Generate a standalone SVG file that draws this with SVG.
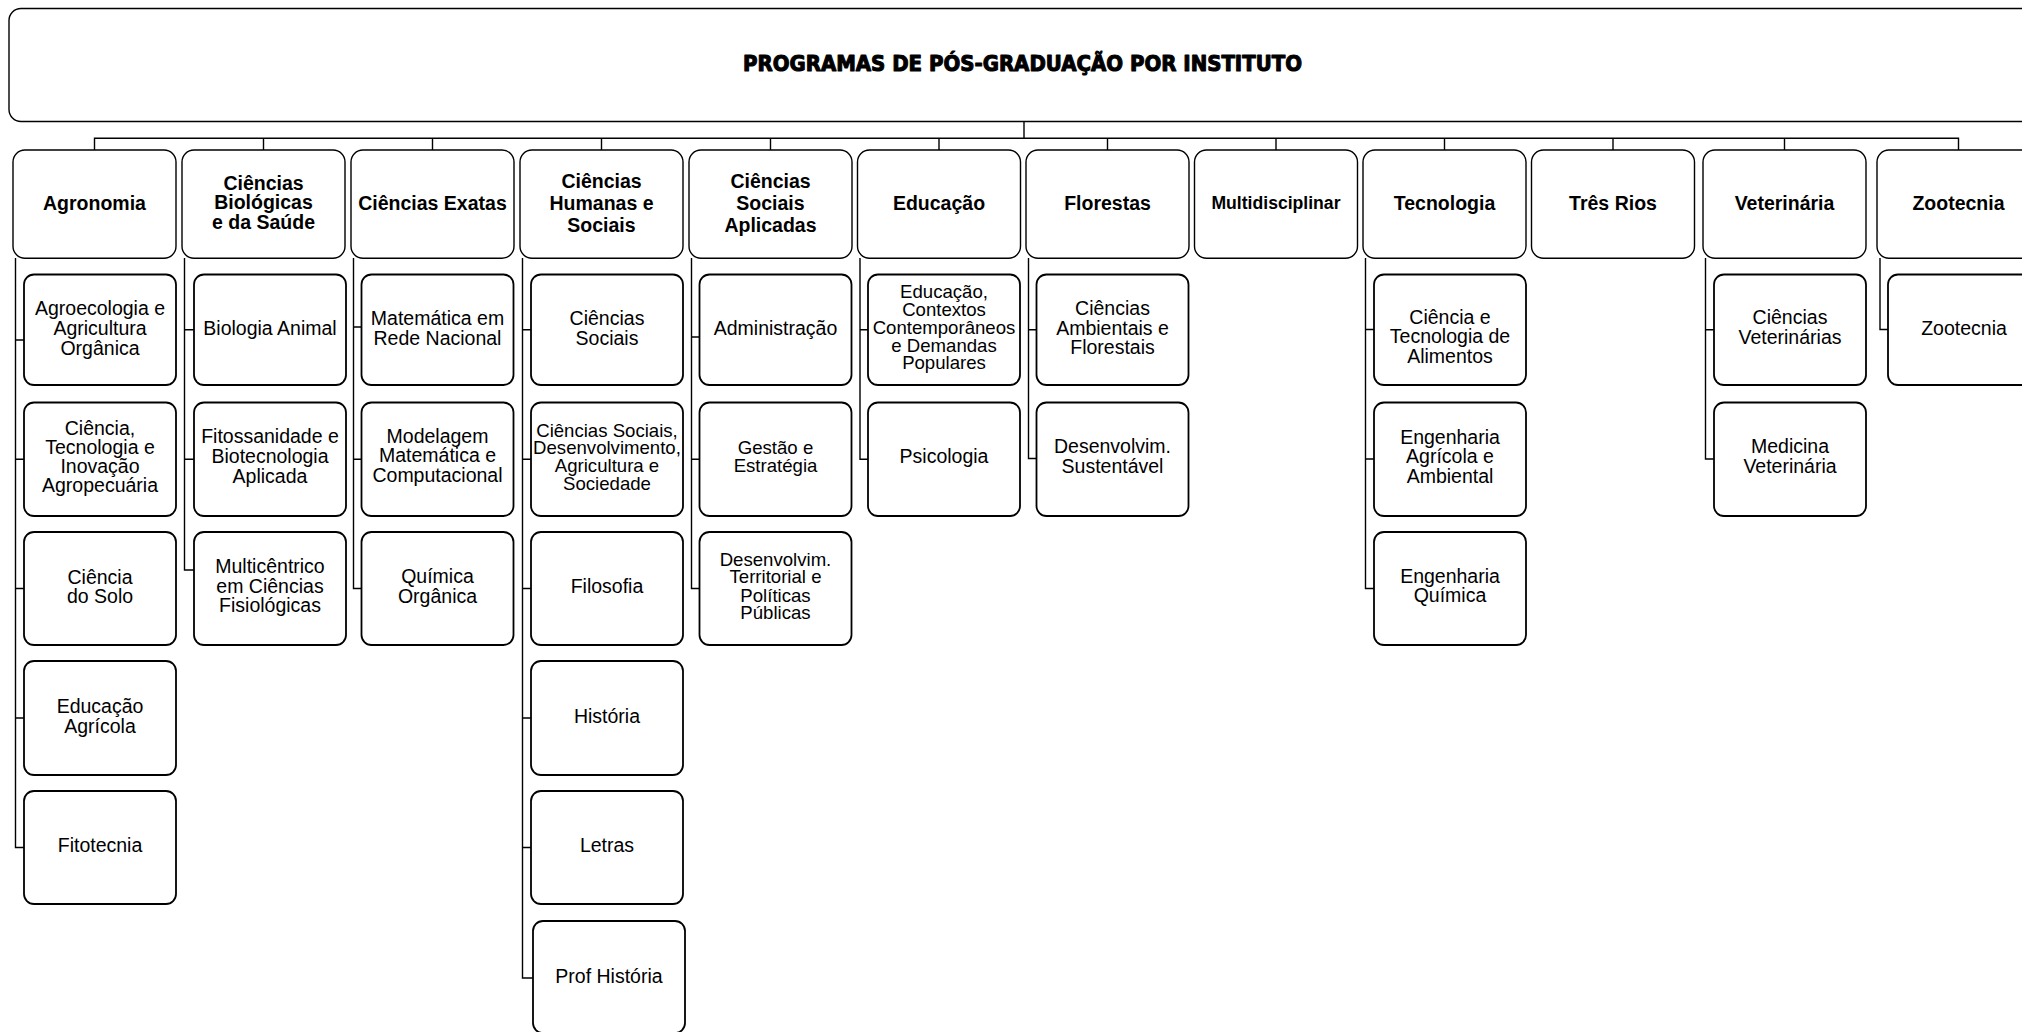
<svg xmlns="http://www.w3.org/2000/svg" width="2022" height="1032" viewBox="0 0 2022 1032">
<style>
.title-box{fill:#fff;stroke:#000;stroke-width:1.4}
.hdr{fill:#fff;stroke:#000;stroke-width:1.4}
.box{fill:#fff;stroke:#000;stroke-width:1.8}
.conn{fill:none;stroke:#000;stroke-width:1.4}
text{font-family:"Liberation Sans",Arial,sans-serif;fill:#000;text-anchor:middle}
.t{font-size:19.5px}
.ts{font-size:18.6px}
.h{font-size:19.5px;font-weight:bold}
.hm{font-size:17.6px;font-weight:bold}
.title{font-family:"DejaVu Sans",sans-serif;font-size:21.5px;font-weight:bold;stroke:#000;stroke-width:1.1;stroke-linejoin:round}
</style>
<rect width="2022" height="1032" fill="#fff"/>
<g id="connectors" class="conn">
<path d="M1024 121.5V138.3M94.5 150V138.3H1958.5V150M263.5 138.3V150M432.5 138.3V150M601.5 138.3V150M770.5 138.3V150M939 138.3V150M1107.5 138.3V150M1276 138.3V150M1444.5 138.3V150M1613 138.3V150M1784.5 138.3V150"/>
<path d="M15.5 258V847.5H24M15.5 340H24M15.5 459.25H24M15.5 588.5H24M15.5 718H24"/>
<path d="M184.5 258V570H194M184.5 329.75H194M184.5 459.25H194"/>
<path d="M353.5 258V588.5H361.5M353.5 327H361.5M353.5 459.25H361.5"/>
<path d="M522.5 258V978H533M522.5 329.75H531M522.5 459.25H531M522.5 588.5H531M522.5 718H531M522.5 847.5H531"/>
<path d="M691.5 258V588.5H699.5M691.5 337H699.5M691.5 459.25H699.5"/>
<path d="M860 258V459.25H868M860 329.75H868"/>
<path d="M1028.5 258V458.5H1036.5M1028.5 329.75H1036.5"/>
<path d="M1365.5 258V588.5H1374M1365.5 329.5H1374M1365.5 459H1374"/>
<path d="M1705.5 258V459H1714M1705.5 329.75H1714"/>
<path d="M1880 258V329.5H1888"/>
</g>
<g id="title">
<rect class="title-box" x="9" y="8.5" width="2031" height="113" rx="12"/>
<text class="title" x="1022.5" y="70.5" textLength="559" lengthAdjust="spacingAndGlyphs">PROGRAMAS DE PÓS-GRADUAÇÃO POR INSTITUTO</text>
</g>
<g id="agronomia">
<rect class="hdr" x="13" y="150" width="163" height="108.3" rx="12"/>
<text class="h" x="94.5" y="209.5">Agronomia</text>
</g>
<g id="agroecologia">
<rect class="box" x="24" y="274.5" width="152" height="110.5" rx="10"/>
<text class="t" x="100"><tspan x="100" y="315">Agroecologia e</tspan><tspan x="100" y="335">Agricultura</tspan><tspan x="100" y="355">Orgânica</tspan></text>
</g>
<g id="ctia">
<rect class="box" x="24" y="402.5" width="152" height="113.5" rx="10"/>
<text class="t" x="100"><tspan x="100" y="435">Ciência,</tspan><tspan x="100" y="454">Tecnologia e</tspan><tspan x="100" y="473.3">Inovação</tspan><tspan x="100" y="492.3">Agropecuária</tspan></text>
</g>
<g id="ciencia-solo">
<rect class="box" x="24" y="532" width="152" height="113" rx="10"/>
<text class="t" x="100"><tspan x="100" y="584">Ciência</tspan><tspan x="100" y="602.7">do Solo</tspan></text>
</g>
<g id="educacao-agricola">
<rect class="box" x="24" y="661" width="152" height="114" rx="10"/>
<text class="t" x="100"><tspan x="100" y="712.7">Educação</tspan><tspan x="100" y="732.7">Agrícola</tspan></text>
</g>
<g id="fitotecnia">
<rect class="box" x="24" y="791" width="152" height="113" rx="10"/>
<text class="t" x="100" y="851.7">Fitotecnia</text>
</g>
<g id="biologicas">
<rect class="hdr" x="182" y="150" width="163" height="108.3" rx="12"/>
<text class="h" x="263.5"><tspan x="263.5" y="190">Ciências</tspan><tspan x="263.5" y="209.3">Biológicas</tspan><tspan x="263.5" y="228.6">e da Saúde</tspan></text>
</g>
<g id="biologia-animal">
<rect class="box" x="194" y="274.5" width="152" height="110.5" rx="10"/>
<text class="t" x="270" y="335">Biologia Animal</text>
</g>
<g id="fitossanidade">
<rect class="box" x="194" y="402.5" width="152" height="113.5" rx="10"/>
<text class="t" x="270"><tspan x="270" y="443.3">Fitossanidade e</tspan><tspan x="270" y="463.3">Biotecnologia</tspan><tspan x="270" y="482.7">Aplicada</tspan></text>
</g>
<g id="multicentrico">
<rect class="box" x="194" y="532" width="152" height="113" rx="10"/>
<text class="t" x="270"><tspan x="270" y="573.3">Multicêntrico</tspan><tspan x="270" y="593.3">em Ciências</tspan><tspan x="270" y="612.3">Fisiológicas</tspan></text>
</g>
<g id="exatas">
<rect class="hdr" x="351" y="150" width="163" height="108.3" rx="12"/>
<text class="h" x="432.5" y="210">Ciências Exatas</text>
</g>
<g id="matematica-rede">
<rect class="box" x="361.5" y="274.5" width="152" height="110.5" rx="10"/>
<text class="t" x="437.5"><tspan x="437.5" y="325">Matemática em</tspan><tspan x="437.5" y="345">Rede Nacional</tspan></text>
</g>
<g id="modelagem">
<rect class="box" x="361.5" y="402.5" width="152" height="113.5" rx="10"/>
<text class="t" x="437.5"><tspan x="437.5" y="443.3">Modelagem</tspan><tspan x="437.5" y="462.3">Matemática e</tspan><tspan x="437.5" y="481.7">Computacional</tspan></text>
</g>
<g id="quimica-organica">
<rect class="box" x="361.5" y="532" width="152" height="113" rx="10"/>
<text class="t" x="437.5"><tspan x="437.5" y="583.3">Química</tspan><tspan x="437.5" y="602.7">Orgânica</tspan></text>
</g>
<g id="humanas">
<rect class="hdr" x="520" y="150" width="163" height="108.3" rx="12"/>
<text class="h" x="601.5"><tspan x="601.5" y="188.3">Ciências</tspan><tspan x="601.5" y="210">Humanas e</tspan><tspan x="601.5" y="231.7">Sociais</tspan></text>
</g>
<g id="ciencias-sociais">
<rect class="box" x="531" y="274.5" width="152" height="110.5" rx="10"/>
<text class="t" x="607"><tspan x="607" y="325">Ciências</tspan><tspan x="607" y="345">Sociais</tspan></text>
</g>
<g id="cs-desenvolvimento">
<rect class="box" x="531" y="402.5" width="152" height="113.5" rx="10"/>
<text class="ts" x="607"><tspan x="607" y="436.7">Ciências Sociais,</tspan><tspan x="607" y="454.3">Desenvolvimento,</tspan><tspan x="607" y="472.3">Agricultura e</tspan><tspan x="607" y="490">Sociedade</tspan></text>
</g>
<g id="filosofia">
<rect class="box" x="531" y="532" width="152" height="113" rx="10"/>
<text class="t" x="607" y="593.3">Filosofia</text>
</g>
<g id="historia">
<rect class="box" x="531" y="661" width="152" height="114" rx="10"/>
<text class="t" x="607" y="722.7">História</text>
</g>
<g id="letras">
<rect class="box" x="531" y="791" width="152" height="113" rx="10"/>
<text class="t" x="607" y="851.7">Letras</text>
</g>
<g id="prof-historia">
<rect class="box" x="533" y="921" width="152" height="112" rx="10"/>
<text class="t" x="609" y="982.5">Prof História</text>
</g>
<g id="sociais-aplicadas">
<rect class="hdr" x="689" y="150" width="163" height="108.3" rx="12"/>
<text class="h" x="770.5"><tspan x="770.5" y="188.3">Ciências</tspan><tspan x="770.5" y="210">Sociais</tspan><tspan x="770.5" y="231.7">Aplicadas</tspan></text>
</g>
<g id="administracao">
<rect class="box" x="699.5" y="274.5" width="152" height="110.5" rx="10"/>
<text class="t" x="775.5" y="335">Administração</text>
</g>
<g id="gestao">
<rect class="box" x="699.5" y="402.5" width="152" height="113.5" rx="10"/>
<text class="ts" x="775.5"><tspan x="775.5" y="454.3">Gestão e</tspan><tspan x="775.5" y="472.3">Estratégia</tspan></text>
</g>
<g id="desenv-territorial">
<rect class="box" x="699.5" y="532" width="152" height="113" rx="10"/>
<text class="ts" x="775.5"><tspan x="775.5" y="565.7">Desenvolvim.</tspan><tspan x="775.5" y="583.3">Territorial e</tspan><tspan x="775.5" y="601.7">Políticas</tspan><tspan x="775.5" y="619.3">Públicas</tspan></text>
</g>
<g id="educacao">
<rect class="hdr" x="857.5" y="150" width="163" height="108.3" rx="12"/>
<text class="h" x="939" y="210">Educação</text>
</g>
<g id="educacao-contextos">
<rect class="box" x="868" y="274.5" width="152" height="110.5" rx="10"/>
<text class="ts" x="944"><tspan x="944" y="298.3">Educação,</tspan><tspan x="944" y="316">Contextos</tspan><tspan x="944" y="334">Contemporâneos</tspan><tspan x="944" y="351.7">e Demandas</tspan><tspan x="944" y="369.3">Populares</tspan></text>
</g>
<g id="psicologia">
<rect class="box" x="868" y="402.5" width="152" height="113.5" rx="10"/>
<text class="t" x="944" y="463.3">Psicologia</text>
</g>
<g id="florestas">
<rect class="hdr" x="1026" y="150" width="163" height="108.3" rx="12"/>
<text class="h" x="1107.5" y="210">Florestas</text>
</g>
<g id="ciencias-ambientais">
<rect class="box" x="1036.5" y="274.5" width="152" height="110.5" rx="10"/>
<text class="t" x="1112.5"><tspan x="1112.5" y="315">Ciências</tspan><tspan x="1112.5" y="335">Ambientais e</tspan><tspan x="1112.5" y="354">Florestais</tspan></text>
</g>
<g id="desenv-sustentavel">
<rect class="box" x="1036.5" y="402.5" width="152" height="113.5" rx="10"/>
<text class="t" x="1112.5"><tspan x="1112.5" y="453.3">Desenvolvim.</tspan><tspan x="1112.5" y="473.3">Sustentável</tspan></text>
</g>
<g id="multidisciplinar">
<rect class="hdr" x="1194.5" y="150" width="163" height="108.3" rx="12"/>
<text class="hm" x="1276" y="208.5">Multidisciplinar</text>
</g>
<g id="tecnologia">
<rect class="hdr" x="1363" y="150" width="163" height="108.3" rx="12"/>
<text class="h" x="1444.5" y="210">Tecnologia</text>
</g>
<g id="cta">
<rect class="box" x="1374" y="274.5" width="152" height="110.5" rx="10"/>
<text class="t" x="1450"><tspan x="1450" y="324">Ciência e</tspan><tspan x="1450" y="343.3">Tecnologia de</tspan><tspan x="1450" y="363.3">Alimentos</tspan></text>
</g>
<g id="eng-agricola">
<rect class="box" x="1374" y="402.5" width="152" height="113.5" rx="10"/>
<text class="t" x="1450"><tspan x="1450" y="444">Engenharia</tspan><tspan x="1450" y="463.3">Agrícola e</tspan><tspan x="1450" y="482.7">Ambiental</tspan></text>
</g>
<g id="eng-quimica">
<rect class="box" x="1374" y="532" width="152" height="113" rx="10"/>
<text class="t" x="1450"><tspan x="1450" y="583.3">Engenharia</tspan><tspan x="1450" y="602.3">Química</tspan></text>
</g>
<g id="tres-rios">
<rect class="hdr" x="1531.5" y="150" width="163" height="108.3" rx="12"/>
<text class="h" x="1613" y="210">Três Rios</text>
</g>
<g id="veterinaria">
<rect class="hdr" x="1703" y="150" width="163" height="108.3" rx="12"/>
<text class="h" x="1784.5" y="210">Veterinária</text>
</g>
<g id="ciencias-veterinarias">
<rect class="box" x="1714" y="274.5" width="152" height="110.5" rx="10"/>
<text class="t" x="1790"><tspan x="1790" y="324">Ciências</tspan><tspan x="1790" y="344">Veterinárias</tspan></text>
</g>
<g id="medicina-veterinaria">
<rect class="box" x="1714" y="402.5" width="152" height="113.5" rx="10"/>
<text class="t" x="1790"><tspan x="1790" y="453.3">Medicina</tspan><tspan x="1790" y="473.3">Veterinária</tspan></text>
</g>
<g id="zootecnia">
<rect class="hdr" x="1877" y="150" width="163" height="108.3" rx="12"/>
<text class="h" x="1958.5" y="210">Zootecnia</text>
</g>
<g id="zootecnia-programa">
<rect class="box" x="1888" y="274.5" width="152" height="110.5" rx="10"/>
<text class="t" x="1964" y="335">Zootecnia</text>
</g>
</svg>
